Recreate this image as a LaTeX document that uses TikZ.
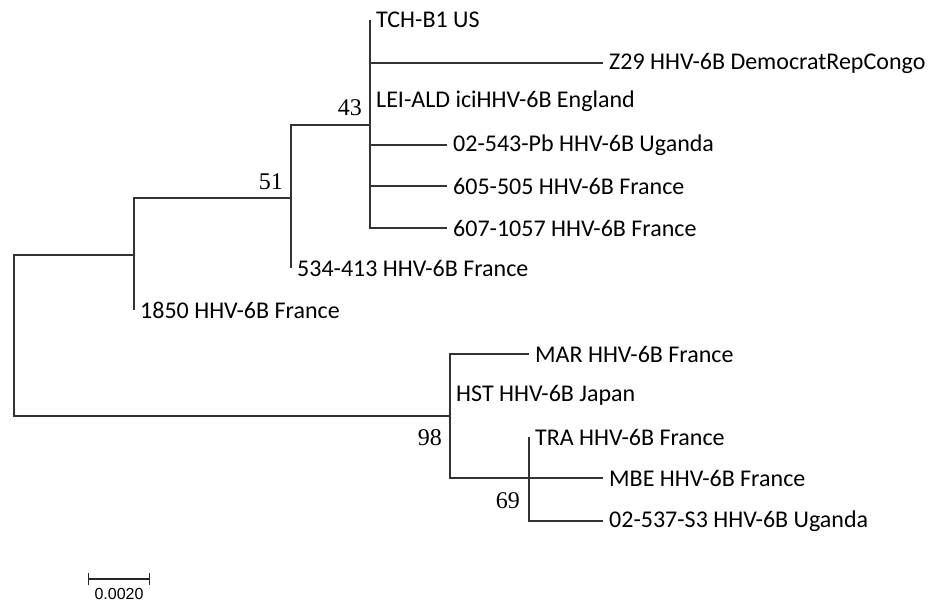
\documentclass[tikz,border=0pt]{standalone}
\usepackage{fontspec}
\usepackage{tikz}
\usetikzlibrary{arrows.meta, positioning, calc}
\newfontfamily\leaffont{Carlito}
\newfontfamily\bsfont{Liberation Serif}
\newfontfamily\barfont{Liberation Sans}
\tikzset{every node/.append style={inner sep=3pt}}

\begin{document}
\begin{tikzpicture}[
    x=1pt, y=-1pt,
    br/.style={line width=1.4pt, black!80},
    leaf/.style={anchor=west, inner sep=6pt, font=\leaffont\fontsize{24}{24}\selectfont},
    bs/.style={inner sep=0pt, font=\bsfont\fontsize{24}{24}\selectfont},
    sbar/.style={{Bar[width=12pt]}-{Bar[width=12pt]}, line width=1.2pt, black!85}
]
\useasboundingbox (0,0) rectangle (928,602);
% internal nodes
\coordinate (root) at (14,335);
\coordinate (n1) at (134,255);
\coordinate (n51) at (291,198);
\coordinate (n43) at (370,125);
\coordinate (n98) at (450,416);
\coordinate (n69) at (529,478);
% leaves
\node[leaf] (tch) at (370,20) {TCH-B1 US};
\node[leaf] (z29) at (603,63) {Z29 HHV-6B DemocratRepCongo};
\node[leaf] (lei) at (370,101) {LEI-ALD iciHHV-6B England};
\node[leaf] (ug1) at (447,145) {02-543-Pb HHV-6B Uganda};
\node[leaf] (fr605) at (447,186) {605-505 HHV-6B France};
\node[leaf] (fr607) at (447,228) {607-1057 HHV-6B France};
\node[leaf] (fr534) at (291,268) {534-413 HHV-6B France};
\node[leaf] (fr1850) at (134,310) {1850 HHV-6B France};
\node[leaf] (mar) at (529,354) {MAR HHV-6B France};
\node[leaf] (hst) at (450,395) {HST HHV-6B Japan};
\node[leaf] (tra) at (529,437) {TRA HHV-6B France};
\node[leaf] (mbe) at (603,478) {MBE HHV-6B France};
\node[leaf] (ug2) at (603,521) {02-537-S3 HHV-6B Uganda};
% branches
\draw[br] (root) |- (n1); \draw[br] (root) |- (n98);
\draw[br] (n1) |- (n51); \draw[br] (n1) |- (fr1850.west);
\draw[br] (n51) |- (n43); \draw[br] (n51) |- (fr534.west);
\draw[br] (n43) |- (tch.west); \draw[br] (n43) |- (z29.west);
\draw[br] (n43) |- (lei.west); \draw[br] (n43) |- (ug1.west);
\draw[br] (n43) |- (fr605.west); \draw[br] (n43) |- (fr607.west);
\draw[br] (n98) |- (mar.west); \draw[br] (n98) |- (hst.west);
\draw[br] (n98) |- (n69);
\draw[br] (n69) |- (tra.west); \draw[br] (n69) |- (mbe.west);
\draw[br] (n69) |- (ug2.west);
% bootstrap values
\node[bs, above left=9pt and 8pt of n43] (b43) {43};
\node[bs, above left=8pt and 8pt of n51] (b51) {51};
\node[bs, below left=13pt and 8pt of n98] (b98) {98};
\node[bs, below left=14pt and 9pt of n69] (b69) {69};
% scale bar
\coordinate (sb1) at (88,579);
\coordinate (sb2) at (150,579);
\coordinate (sbm) at ($(sb1)!0.5!(sb2)$);
\draw[sbar] (sb1) -- (sb2);
\node[font=\barfont\fontsize{16}{16}\selectfont, below=6pt of sbm] (sbl) {0.0020};
\end{tikzpicture}
\end{document}
